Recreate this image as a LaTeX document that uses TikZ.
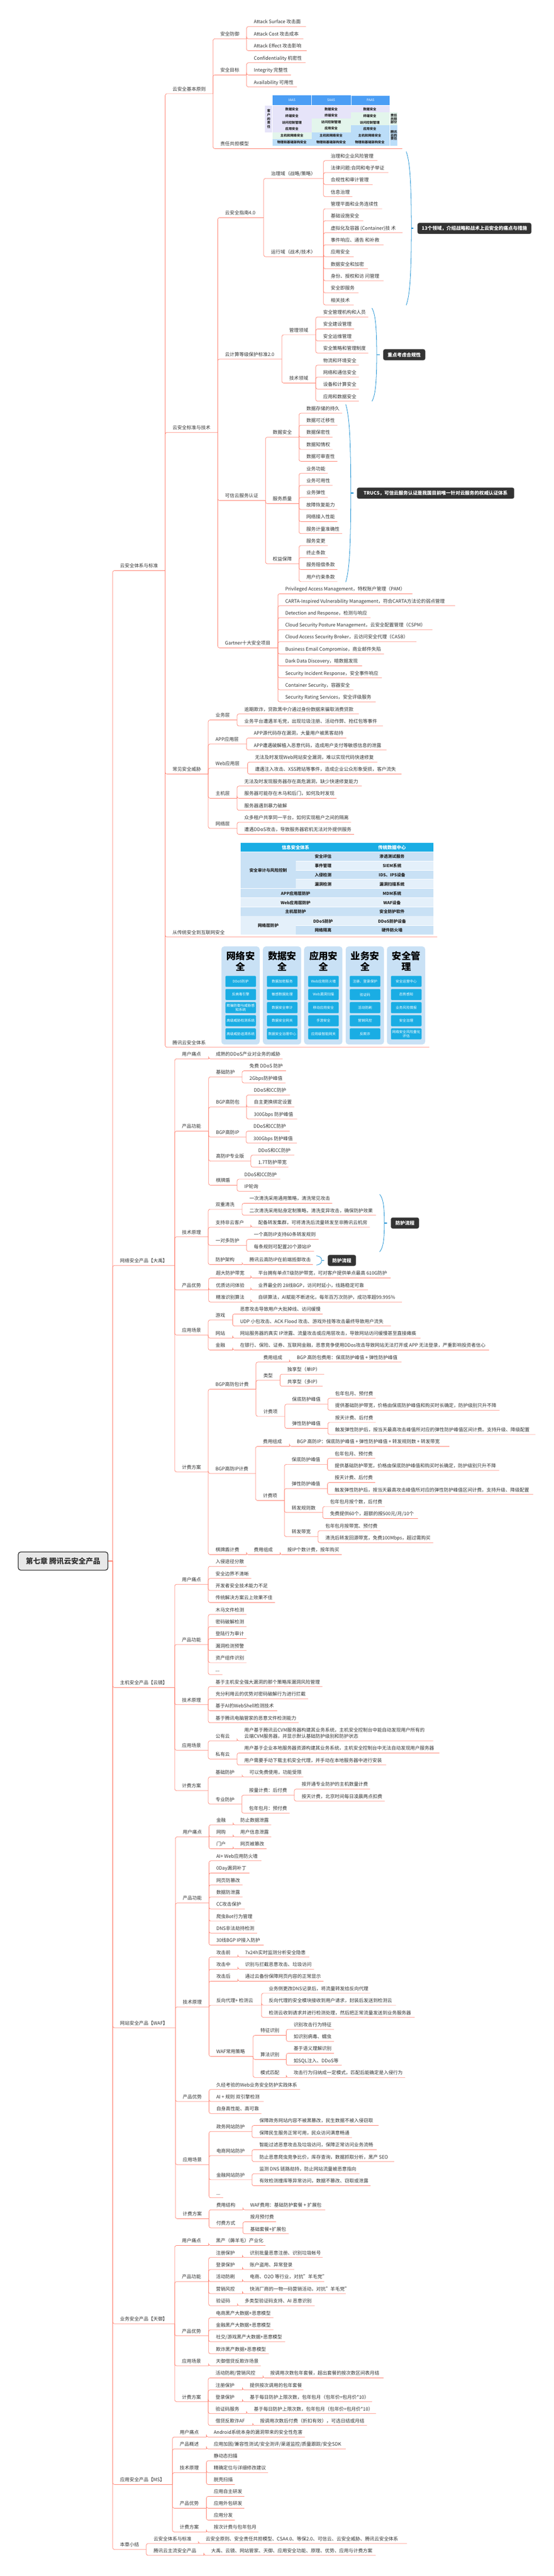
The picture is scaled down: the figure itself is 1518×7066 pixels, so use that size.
\documentclass[tikz,border=0pt]{standalone}
\usepackage{fontspec}
\setmainfont{Noto Sans CJK SC}
\definecolor{linec}{HTML}{FF7A68}
\definecolor{txtc}{HTML}{333333}
\definecolor{bluec}{HTML}{0A88D0}
\definecolor{darkc}{HTML}{333333}
\definecolor{lav}{HTML}{E6E4F9}
\definecolor{grn}{HTML}{E3F5EC}
\definecolor{sky}{HTML}{BBDDF8}
\definecolor{hdr}{HTML}{4B9EF5}
\definecolor{cy}{HTML}{1AADE4}
\definecolor{rowd}{HTML}{C9E1F5}
\definecolor{rowl}{HTML}{E4F0FA}
\tikzset{
  txt/.style={anchor=base west,inner sep=0pt,text=txtc,font=\fontsize{13}{17}\selectfont},
  conn/.style={draw=linec,line width=1pt,rounded corners=5pt},
  rootbox/.style={draw=darkc,line width=2pt,fill=black!9,rounded corners=7pt,minimum width=246pt,minimum height=50pt,inner sep=0pt,text=txtc,font=\fontsize{20}{24}\selectfont\bfseries},
  notebox/.style={fill=darkc,draw=black!55,line width=.5pt,rounded corners=5pt,minimum height=30pt,inner sep=0pt,text=white,font=\fontsize{13}{17}\selectfont\bfseries},
  brace/.style={draw=bluec,line width=1.1pt},
  stub/.style={draw=bluec,line width=2.4pt},
  tone/.style={inner sep=0pt,text=black!85,font=\fontsize{9}{11}\selectfont\bfseries,align=center},
  ttwo/.style={inner sep=0pt,text=black!85,font=\fontsize{11.4}{14}\selectfont\bfseries,align=center},
  thead/.style={inner sep=0pt,text=white,font=\fontsize{12.6}{15}\selectfont\bfseries},
  ttitle/.style={inner sep=0pt,text=black,font=\fontsize{26}{29.4}\selectfont\bfseries,align=center},
  tcell/.style={fill=cy,draw=cy!45,line width=.5pt,rounded corners=2pt},
  tcellt/.style={inner sep=0pt,text=white,font=\fontsize{9.6}{12.5}\selectfont,align=center},
}
% id, parent, y of the underline, x of its end, text
\newcommand\mm[5]{%
  \coordinate (#1-s) at (#2-e |- 0,#3);
  \coordinate (#1-e) at (#4,#3);
  \node[txt] (#1) at ([xshift=20pt,yshift=8pt]#1-s) {#5};
  \draw[conn] (#2-e) |- (#1-e);
}
\newcounter{cellno}
% x1,y1,x2,y2,fill
\newcommand\bx[5]{\fill[#5] (#1,#2) rectangle (#3,#4);}
% style, x, y, text
\newcommand\lb[4]{\stepcounter{cellno}\node[#1] (lb\thecellno) at (#2,#3) {#4};}
% x at both ends, text, y0, y1, apex x, stub end x, box left, box right
\newcommand\brk[8]{%
  \stepcounter{cellno}%
  \pgfmathsetmacro\mmYc{(#3+#4)/2}
  \pgfmathsetmacro\mmXm{#1+(#5-#1)*0.65}
  \pgfmathsetmacro\mmYa{#3+(\mmYc-#3)*0.12}
  \pgfmathsetmacro\mmYb{#3+(\mmYc-#3)*0.35}
  \pgfmathsetmacro\mmYd{#4-(#4-\mmYc)*0.35}
  \pgfmathsetmacro\mmYe{#4-(#4-\mmYc)*0.12}
  \pgfmathsetmacro\mmXw{(#7+#8)/2}
  \pgfmathsetmacro\mmWw{#8-#7}
  \coordinate (bt\thecellno) at (#1,#3);
  \coordinate (bb\thecellno) at (#1,#4);
  \coordinate (ba\thecellno) at (#5,\mmYc);
  \coordinate (bs\thecellno) at (#6,\mmYc);
  \draw[brace] (bt\thecellno) .. controls (\mmXm,\mmYa) and (#5,\mmYb) .. (ba\thecellno) .. controls (#5,\mmYd) and (\mmXm,\mmYe) .. (bb\thecellno);
  \draw[stub] (ba\thecellno) -- (bs\thecellno);
  \node[notebox,minimum width=\mmWw pt] (note\thecellno) at (\mmXw,\mmYc) {#2};
}
% table column: left x, title, 5 cells
\newcommand\tcol[7]{%
  \pgfmathsetmacro\mmCa{#1+11}\pgfmathsetmacro\mmCb{#1+95}\pgfmathsetmacro\mmCc{#1+53}\pgfmathsetmacro\mmCd{#1+105}
  \fill[rowd,rounded corners=8pt] (#1,2596) rectangle (\mmCd,2865);
  \lb{ttitle}{\mmCc}{2637}{#2}
  \draw[tcell] (\mmCa,2676.7) rectangle (\mmCb,2707.3); \lb{tcellt}{\mmCc}{2692}{#3}
  \draw[tcell] (\mmCa,2712.7) rectangle (\mmCb,2743.3); \lb{tcellt}{\mmCc}{2728}{#4}
  \draw[tcell] (\mmCa,2748.6) rectangle (\mmCb,2779.3); \lb{tcellt}{\mmCc}{2764}{#5}
  \draw[tcell] (\mmCa,2784.6) rectangle (\mmCb,2815.2); \lb{tcellt}{\mmCc}{2800}{#6}
  \draw[tcell] (\mmCa,2820.6) rectangle (\mmCb,2851.2); \lb{tcellt}{\mmCc}{2836}{#7}
}
\begin{document}
\begin{tikzpicture}[x=1pt,y=-1pt]
\useasboundingbox (0,0) rectangle (1518,7066);
\node[rootbox] (root) at (173,4282) {第七章 腾讯云安全产品};
\coordinate (root-e) at (309,4282);
\draw[linec,line width=2pt] (root.east) -- (root-e);

% ---- 云安全体系与标准
\mm{a}{root}{1565}{453}{云安全体系与标准}
\mm{a1}{a}{257}{584}{云安全基本原则}
\mm{a11}{a1}{106.4}{676}{安全防御}
\mm{a111}{a11}{73}{839}{Attack Surface 攻击面}
\mm{a112}{a11}{106.4}{832}{Attack Cost 攻击成本}
\mm{a113}{a11}{139.3}{841}{Attack Effect 攻击影响}
\mm{a12}{a1}{205.5}{676}{安全目标}
\mm{a121}{a12}{172.2}{838}{Confidentiality 机密性}
\mm{a122}{a12}{205.5}{798}{Integrity 完整性}
\mm{a123}{a12}{238.4}{814}{Availability 可用性}
\mm{a13}{a1}{407.6}{1103}{责任共担模型}
% table 1
\bx{748}{262}{853}{288}{hdr}\bx{855}{262}{962}{288}{hdr}\bx{964}{263}{1069}{288}{hdr}
\lb{thead,font=\fontsize{9}{11}\selectfont}{800.5}{275}{IAAS}
\lb{thead,font=\fontsize{9}{11}\selectfont}{908}{275}{SAAS}
\lb{thead,font=\fontsize{9}{11}\selectfont}{1016}{275}{PAAS}
\bx{727}{289.3}{746}{363}{lav}
\bx{748}{289.3}{855}{362.8}{lav}\bx{748}{362.8}{855}{381.2}{grn}\bx{748}{381.2}{855}{400}{sky}
\bx{855}{289.3}{963}{325}{lav}\bx{855}{325}{963}{362.8}{grn}\bx{855}{362.8}{963}{400}{sky}
\bx{963}{289.3}{1069}{308}{lav}\bx{963}{308}{1069}{343}{grn}\bx{963}{343}{1069}{400}{sky}
\bx{1070}{308}{1090}{343}{grn}\bx{1070}{343}{1090}{400}{sky}
\lb{tone}{737}{304}{客}\lb{tone}{737}{315}{户}\lb{tone}{737}{326}{的}\lb{tone}{737}{337}{责}\lb{tone}{737}{348}{任}
\lb{tone}{1080}{317}{责任}\lb{tone}{1080}{326}{共担}\lb{tone}{1080}{335}{部分}
\lb{tone}{1080}{362}{腾讯}\lb{tone}{1080}{372}{云的}\lb{tone}{1080}{381}{责任}
\lb{tone}{800.5}{299.3}{数据安全}\lb{tone}{800.5}{318.4}{终端安全}\lb{tone}{800.5}{336}{访问控制管理}\lb{tone}{800.5}{353.6}{应用安全}\lb{tone}{800.5}{372.4}{主机和网络安全}\lb{tone}{800.5}{390.7}{物理和基础架构安全}
\lb{tone}{908}{299.3}{数据安全}\lb{tone}{908}{316.5}{终端安全}\lb{tone}{908}{334.9}{访问控制管理}\lb{tone}{908}{352}{应用安全}\lb{tone}{908}{372.4}{主机和网络安全}\lb{tone}{908}{390.7}{物理和基础架构安全}
\lb{tone}{1014}{299.3}{数据安全}\lb{tone}{1014}{317.6}{终端安全}\lb{tone}{1014}{336}{访问控制管理}\lb{tone}{1014}{353.6}{应用安全}\lb{tone}{1014}{372.4}{主机和网络安全}\lb{tone}{1014}{390.7}{物理和基础架构安全}

\mm{a2}{a}{1186}{597}{云安全标准与技术}
\mm{a21}{a2}{597}{723}{云安全指南4.0}
\mm{a211}{a21}{489.5}{887}{治理域（战略/策略）}
\mm{a2111}{a211}{440.5}{1035}{治理和企业风险管理}
\mm{a2112}{a211}{473.4}{1065}{法律问题:合同和电子举证}
\mm{a2113}{a211}{506.3}{1022}{合规性和审计管理}
\mm{a2114}{a211}{539.6}{966}{信息治理}
\mm{a212}{a21}{704}{887}{运行域（战术/技术）}
\mm{a2121}{a212}{572.5}{1048}{管理平面和业务连续性}
\mm{a2122}{a212}{605.4}{996}{基础设施安全}
\mm{a2123}{a212}{638.3}{1104}{虚拟化及容器 (Container)技 术}
\mm{a2124}{a212}{671.6}{1052}{事件响应、通告 和补救}
\mm{a2125}{a212}{704}{970}{应用安全}
\mm{a2126}{a212}{737.4}{1009}{数据安全和加密}
\mm{a2127}{a212}{770.3}{1052}{身份、授权和访 问管理}
\mm{a2128}{a212}{803.6}{983}{安全即服务}
\mm{a2129}{a212}{836.5}{970}{相关技术}
\brk{1114}{13个领域，介绍战略和战术上云安全的痛点与措施}{416}{837}{1128}{1134}{1145}{1457}
\mm{a22}{a2}{985}{773}{云计算等级保护标准2.0}
\mm{a221}{a22}{918.4}{866}{管理领域}
\mm{a2211}{a221}{869.4}{1010}{安全管理机构和人员}
\mm{a2212}{a221}{902.3}{971}{安全建设管理}
\mm{a2213}{a221}{935.2}{971}{安全运维管理}
\mm{a2214}{a221}{968.5}{1010}{安全策略和管理制度}
\mm{a222}{a22}{1050.8}{866}{技术领域}
\mm{a2221}{a222}{1001.5}{984}{物流和环境安全}
\mm{a2222}{a222}{1034.4}{984}{网络和通信安全}
\mm{a2223}{a222}{1067.3}{984}{设备和计算安全}
\mm{a2224}{a222}{1100.6}{984}{应用和数据安全}
\brk{1020}{重点考虑合规性}{845}{1101}{1033}{1041}{1051}{1166}
\mm{a23}{a2}{1373}{728}{可信云服务认证}
\mm{a231}{a23}{1199.3}{820}{数据安全}
\mm{a2311}{a231}{1133.5}{938}{数据存储的持久}
\mm{a2312}{a231}{1166.4}{925}{数据可迁移性}
\mm{a2313}{a231}{1199.3}{912}{数据保密性}
\mm{a2314}{a231}{1232.5}{912}{数据知情权}
\mm{a2315}{a231}{1265.4}{925}{数据可审查性}
\mm{a232}{a23}{1381.4}{820}{服务质量}
\mm{a2321}{a232}{1298.4}{899}{业务功能}
\mm{a2322}{a232}{1331.3}{912}{业务可用性}
\mm{a2323}{a232}{1364.6}{899}{业务弹性}
\mm{a2324}{a232}{1397.5}{925}{故障恢复能力}
\mm{a2325}{a232}{1430.8}{925}{网络接入性能}
\mm{a2326}{a232}{1463.7}{938}{服务计量准确性}
\mm{a233}{a23}{1546.3}{820}{权益保障}
\mm{a2331}{a233}{1496.6}{899}{服务变更}
\mm{a2332}{a233}{1529.5}{899}{终止条款}
\mm{a2333}{a233}{1562.4}{925}{服务赔偿条款}
\mm{a2334}{a233}{1595.3}{925}{用户约束条款}
\brk{948}{TRUCS，可信云服务认证是我国目前唯一针对云服务的权威认证体系}{1109}{1596.5}{962}{969}{979}{1410}
\mm{a24}{a2}{1777}{762}{Gartner十大安全项目}
\mm{a241}{a24}{1628.6}{1131}{Privileged Access Management，特权账户管理（PAM）}
\mm{a242}{a24}{1661.5}{1248}{CARTA-Inspired Vulnerability Management，符合CARTA方法论的弱点管理}
\mm{a243}{a24}{1694.4}{1016}{Detection and Response，检测与响应}
\mm{a244}{a24}{1727.3}{1186}{Cloud Security Posture Management，云安全配置管理（CSPM）}
\mm{a245}{a24}{1760.3}{1142}{Cloud Access Security Broker，云访问安全代理（CASB）}
\mm{a246}{a24}{1793.6}{1053}{Business Email Compromise，商业邮件失陷}
\mm{a247}{a24}{1826.4}{993}{Dark Data Discovery，暗数据发现}
\mm{a248}{a24}{1859.3}{1047}{Security Incident Response，安全事件响应}
\mm{a249}{a24}{1892.2}{969}{Container Security，容器安全}
\mm{a240}{a24}{1925.1}{1030}{Security Rating Services，安全评级服务}
\mm{a3}{a}{2123.4}{571}{常见安全威胁}
\mm{a31}{a3}{1974.9}{650}{业务层}
\mm{a311}{a31}{1958.4}{984}{逾期欺诈，贷款黑中介通过身份数据来骗取消费贷款}
\mm{a312}{a31}{1991.3}{1050}{业务平台遭遇羊毛党，出现垃圾注册、活动作弊、抢红包等事件}
\mm{a32}{a3}{2040.7}{676}{APP应用层}
\mm{a321}{a32}{2024.3}{950}{APP源代码存在漏洞，大量用户被黑客劫持}
\mm{a322}{a32}{2057.2}{1060}{APP遭遇破解植入恶意代码，造成用户支付等敏感信息的泄露}
\mm{a33}{a3}{2106.9}{679}{Web应用层}
\mm{a331}{a33}{2090.5}{1035}{无法及时发现Web网站安全漏洞，难以实现代码快速修复}
\mm{a332}{a33}{2123.4}{1101}{遭遇注入攻击、XSS跨站等事件，造成企业公众形象受损，客户流失}
\mm{a34}{a3}{2189.6}{650}{主机层}
\mm{a341}{a34}{2156.3}{992}{无法及时发现服务器存在高危漏洞，缺少快速修复能力}
\mm{a342}{a34}{2189.6}{923}{服务器可能存在木马和后门，如何及时发现}
\mm{a343}{a34}{2222.5}{794}{服务器遇到暴力破解}
\mm{a35}{a3}{2272.3}{650}{网络层}
\mm{a351}{a35}{2255.4}{963}{众多租户共享同一平台，如何实现租户之间的隔离}
\mm{a352}{a35}{2288.7}{971}{遭遇DDoS攻击，导致服务器宕机无法对外提供服务}
\mm{a4}{a}{2570.3}{1199}{从传统安全到互联网安全}
% table 2
\bx{660}{2312.4}{961}{2335.8}{cy}\bx{961.6}{2312.4}{1189}{2335.8}{cy}
\lb{thead}{810.5}{2325}{信息安全体系}\lb{thead}{1075}{2325}{传统数据中心}
\bx{660}{2337}{811}{2437}{rowd}
\lb{ttwo}{735.5}{2388}{安全审计与风险控制}
\bx{811.6}{2337}{1189}{2361.4}{rowd}\lb{ttwo}{886}{2350}{安全评估}\lb{ttwo}{1075}{2350}{渗透测试服务}
\bx{811.6}{2362.5}{1189}{2386.7}{rowl}\lb{ttwo}{886}{2375}{事件管理}\lb{ttwo}{1075}{2375}{SIEM系统}
\bx{811.6}{2387.8}{1189}{2411}{rowd}\lb{ttwo}{886}{2400}{入侵检测}\lb{ttwo}{1075}{2400}{IDS、IPS设备}
\bx{811.6}{2412}{1189}{2437}{rowl}\lb{ttwo}{886}{2425}{漏洞检测}\lb{ttwo}{1075}{2425}{漏洞扫描系统}
\bx{660}{2438}{1189}{2462}{rowd}\lb{ttwo}{810.5}{2451}{APP应用层防护}\lb{ttwo}{1075}{2451}{MDM系统}
\bx{660}{2463}{1189}{2487}{rowl}\lb{ttwo}{810.5}{2476}{Web应用层防护}\lb{ttwo}{1075}{2476}{WAF设备}
\bx{660}{2488}{1189}{2512}{rowd}\lb{ttwo}{810.5}{2501}{主机层防护}\lb{ttwo}{1075}{2501}{安全防护软件}
\bx{660}{2513}{811}{2563}{rowl}\lb{ttwo}{735.5}{2539}{网络层防护}
\bx{811.6}{2513}{1189}{2538}{rowl}\lb{ttwo}{886}{2527}{DDoS防护}\lb{ttwo}{1075}{2527}{DDoS防护设备}
\bx{811.6}{2539}{1189}{2563}{rowd}\lb{ttwo}{886}{2552}{网络隔离}\lb{ttwo}{1075}{2552}{硬件防火墙}
\mm{a5}{a}{2872.6}{1177}{腾讯云安全体系}
% table 3
\tcol{607}{网络安\\全}{DDoS防护}{反病毒引擎}{欺骗防御与威胁感\\知系统}{高级威胁检测系统}{高级威胁追溯系统}
\tcol{721}{数据安\\全}{数据加密服务}{敏感数据处理}{数据安全审计}{数据安全网关}{数据安全治理中心}
\tcol{834}{应用安\\全}{Web应用防火墙}{Web漏洞扫描}{移动应用安全}{手游安全}{应用级智能网关}
\tcol{948}{业务安\\全}{注册、登录保护}{验证码}{活动防刷}{营销风控}{反欺诈}
\tcol{1061}{安全管\\理}{安全运营中心}{态势感知}{业务风险情报}{安全治理}{网络安全风险量化\\评估}

% ---- 网络安全产品【大禹】
\mm{b}{root}{3471}{479}{网络安全产品【大禹】}
\mm{b1}{b}{2904.4}{572}{用户痛点}
\mm{b11}{b1}{2904.4}{775}{成熟的DDoS产业对业务的威胁}
\mm{b2}{b}{3102.6}{572}{产品功能}
\mm{b21}{b2}{2953.8}{664}{基础防护}
\mm{b211}{b21}{2937.3}{784}{免费 DDoS 防护}
\mm{b212}{b21}{2970.6}{783}{2Gbps防护峰值}
\mm{b22}{b2}{3036.4}{676}{BGP高防包}
\mm{b221}{b22}{3003.4}{795}{DDoS和CC防护}
\mm{b222}{b22}{3036.4}{807}{自主更换绑定设置}
\mm{b223}{b22}{3069.3}{815}{300Gbps 防护峰值}
\mm{b23}{b2}{3119}{675}{BGP高防IP}
\mm{b231}{b23}{3102.6}{794}{DDoS和CC防护}
\mm{b232}{b23}{3135.5}{814}{300Gbps 防护峰值}
\mm{b24}{b2}{3184.8}{688}{高防IP专业版}
\mm{b241}{b24}{3168.4}{807}{DDoS和CC防护}
\mm{b242}{b24}{3201.3}{791}{1.7T防护带宽}
\mm{b25}{b2}{3251}{650}{棋牌盾}
\mm{b251}{b25}{3234.6}{769}{DDoS和CC防护}
\mm{b252}{b25}{3267.5}{715}{IP轮询}
\mm{b3}{b}{3392.6}{571}{技术原理}
\mm{b31}{b3}{3316.9}{664}{双重清洗}
\mm{b311}{b31}{3300.4}{911}{一次清洗采用通用策略，清洗常见攻击}
\mm{b312}{b31}{3333.3}{1031}{二次清洗采用贴身定制策略，清洗变异攻击，确保防护效果}
\mm{b32}{b3}{3366.2}{688}{支持非云客户}
\mm{b321}{b32}{3366.2}{1014}{配备转发集群，可将清洗后流量转发至非腾讯云机房}
\mm{b33}{b3}{3416}{676}{一对多防护}
\mm{b331}{b33}{3399.5}{874}{一个高防IP支持60条转发规则}
\mm{b332}{b33}{3432.4}{861}{每条规则可配置20个源站IP}
\mm{b34}{b3}{3468.8}{664}{防护架构}
\mm{b341}{b34}{3468.8}{858}{腾讯云高防IP在前端抵御攻击}
\brk{1041}{防护流程}{3276}{3433.6}{1054}{1062}{1072}{1149}
\brk{868}{防护流程}{3444.7}{3470}{882}{889}{899}{976}
\mm{b4}{b}{3538.4}{572}{产品优势}
\mm{b41}{b4}{3505.5}{688}{超大防护带宽}
\mm{b411}{b41}{3505.5}{1071}{平台拥有单点T级防护带宽，可对客户提供单点最高 610G防护}
\mm{b42}{b4}{3538.4}{688}{优质访问体验}
\mm{b421}{b42}{3538.4}{1009}{业界最全的 28线BGP，访问时延小，线路稳定可靠}
\mm{b43}{b4}{3571.4}{688}{精准识别算法}
\mm{b431}{b43}{3571.4}{1102}{自研算法，AI赋能不断进化，每年百万次防护，成功率超99.995\%}
\mm{b5}{b}{3662}{571}{应用场景}
\mm{b51}{b5}{3620.7}{638}{游戏}
\mm{b511}{b51}{3604.2}{885}{恶意攻击导致用户大批掉线、访问缓慢}
\mm{b512}{b51}{3637.1}{1072}{UDP 小包攻击、ACK Flood 攻击、游戏外挂等攻击最终导致用户流失}
\mm{b52}{b5}{3670.4}{638}{网站}
\mm{b521}{b52}{3670.4}{1153}{网站服务器的真实 IP泄露、流量攻击或应用层攻击，导致网站访问缓慢甚至直接瘫痪}
\mm{b53}{b5}{3703.3}{638}{金融}
\mm{b531}{b53}{3703.3}{1341}{在银行、保险、证券、互联网金融，恶意竞争使用DDos攻击导致网站无法打开或 APP 无法登录，严重影响投资者信心}
\mm{b6}{b}{4037.4}{571}{计费方案}
\mm{b61}{b6}{3810.5}{702}{BGP高防包计费}
\mm{b611}{b61}{3736.2}{794}{费用组成}
\mm{b6111}{b611}{3736.2}{1101}{BGP 高防包费用：保底防护峰值 + 弹性防护峰值}
\mm{b612}{b61}{3786}{768}{类型}
\mm{b6121}{b612}{3769.5}{889}{独享型（单IP）}
\mm{b6122}{b612}{3802.4}{885}{共享型（多IP）}
\mm{b613}{b61}{3885}{781}{计费项}
\mm{b6131}{b613}{3851.8}{899}{保底防护峰值}
\mm{b61311}{b6131}{3835.4}{1030}{包年包月、预付费}
\mm{b61312}{b6131}{3868.3}{1370}{提供基础防护带宽，价格由保底防护峰值和购买时长确定，防护级别只升不降}
\mm{b6132}{b613}{3918}{899}{弹性防护峰值}
\mm{b61321}{b6132}{3901.6}{1030}{按天计费、后付费}
\mm{b61322}{b6132}{3934.5}{1468}{触发弹性防护后，按当天最高攻击峰值所对应的弹性防护峰值区间计费。支持升级、降级配置}
\mm{b62}{b6}{4041.6}{701}{BGP高防IP计费}
\mm{b621}{b62}{3967.4}{794}{费用组成}
\mm{b6211}{b621}{3967.4}{1232}{BGP 高防IP：保底防护峰值 + 弹性防护峰值 + 转发规则数 + 转发带宽}
\mm{b622}{b62}{4115.9}{780}{计费项}
\mm{b6221}{b622}{4016.8}{898}{保底防护峰值}
\mm{b62211}{b6221}{4000.3}{1029}{包年包月、预付费}
\mm{b62212}{b6221}{4033.2}{1369}{提供基础防护带宽，价格由保底防护峰值和购买时长确定，防护级别只升不降}
\mm{b6222}{b622}{4083}{898}{弹性防护峰值}
\mm{b62221}{b6222}{4066.5}{1029}{按天计费、后付费}
\mm{b62222}{b6222}{4099.4}{1462}{触发弹性防护后，按当天最高攻击峰值所对应的弹性防护峰值区间计费。支持升级、降级配置}
\mm{b6223}{b622}{4148.8}{885}{转发规则数}
\mm{b62231}{b6223}{4132.3}{1055}{包年包月按个数，后付费}
\mm{b62232}{b6223}{4165.3}{1146}{免费提供60个，超额的按500元/月/10个}
\mm{b6224}{b622}{4215}{872}{转发带宽}
\mm{b62241}{b6224}{4198.5}{1043}{包年包月按带宽、预付费}
\mm{b62242}{b6224}{4231.4}{1188}{清洗后转发回源带宽，免费100Mbps，超过需购买}
\mm{b63}{b6}{4264.3}{676}{棋牌盾计费}
\mm{b631}{b63}{4264.3}{768}{费用组成}
\mm{b6311}{b631}{4264.3}{937}{按IP个数计费，按年购买}

% ---- 主机安全产品【云镜】
\mm{c}{root}{4629}{479}{主机安全产品【云镜】}
\mm{c1}{c}{4345.8}{571}{用户痛点}
\mm{c11}{c1}{4296.4}{676}{入侵途径分散}
\mm{c12}{c1}{4329.7}{689}{安全边界不清晰}
\mm{c13}{c1}{4362.6}{741}{开发者安全技术能力不足}
\mm{c14}{c1}{4395.6}{754}{传统解决方案云上效果不佳}
\mm{c2}{c}{4510.8}{571}{产品功能}
\mm{c21}{c2}{4428.5}{676}{木马文件检测}
\mm{c22}{c2}{4461.8}{676}{密码破解检测}
\mm{c23}{c2}{4494.7}{676}{登陆行为审计}
\mm{c24}{c2}{4527.6}{676}{漏洞检测预警}
\mm{c25}{c2}{4560.5}{676}{资产组件识别}
\mm{c26}{c2}{4593.4}{610}{...}
\mm{c3}{c}{4676}{571}{技术原理}
\mm{c31}{c3}{4626.3}{884}{基于主机安全强大漏洞的那个策略库漏洞风险管理}
\mm{c32}{c3}{4659.6}{845}{充分利用云的优势对密码破解行为进行拦截}
\mm{c33}{c3}{4692.5}{760}{基于AI的WebShell检测技术}
\mm{c34}{c3}{4725.4}{819}{基于腾讯电脑管家的恶意文件检测能力}
\mm{c4}{c}{4800.8}{571}{应用场景}
\mm{c41}{c4}{4775}{650}{公有云}
\mm{c411}{c41}{4775}{1188}{\begin{tabular}[b]{@{}l@{}}用户基于腾讯云CVM服务器构建其业务系统，主机安全控制台中能自动发现用户所有的\\云端CVM服务器，并显示默认基础防护级别和防护状态\end{tabular}}
\mm{c42}{c4}{4825}{650}{私有云}
\mm{c421}{c42}{4808.4}{1205}{用户基于企业本地服务器资源构建其业务系统，主机安全控制台中无法自动发现用户服务器}
\mm{c422}{c42}{4841.3}{1059}{用户需要手动下载主机安全代理，并手动在本地服务器中进行安装}
\mm{c5}{c}{4911.7}{571}{计费方案}
\mm{c51}{c5}{4874.2}{664}{基础防护}
\mm{c511}{c51}{4874.2}{832}{可以免费使用，功能受限}
\mm{c52}{c5}{4948.5}{663}{专业防护}
\mm{c521}{c52}{4924}{807}{按量计费：后付费}
\mm{c5211}{c521}{4907.5}{1015}{按开通专业防护的主机数量计费}
\mm{c5212}{c521}{4940.4}{1055}{按天计费，北京时间每日凌晨两点扣费}
\mm{c522}{c52}{4973.4}{794}{包年包月：预付费}

% ---- 网站安全产品【WAF】
\mm{d}{root}{5562.3}{481}{网站安全产品【WAF】}
\mm{d1}{d}{5038.4}{573}{用户痛点}
\mm{d11}{d1}{5005.5}{639}{金融}
\mm{d111}{d11}{5005.5}{744}{防止数据泄露}
\mm{d12}{d1}{5038.4}{639}{网购}
\mm{d121}{d12}{5038.4}{744}{用户信息泄露}
\mm{d13}{d1}{5071.3}{639}{门户}
\mm{d131}{d13}{5071.3}{731}{网页被篡改}
\mm{d2}{d}{5219.8}{573}{产品功能}
\mm{d21}{d2}{5104.2}{717}{AI+ Web应用防火墙}
\mm{d22}{d2}{5137.5}{684}{0Day漏洞补丁}
\mm{d23}{d2}{5170.4}{665}{网页防篡改}
\mm{d24}{d2}{5203.3}{665}{数据防泄露}
\mm{d25}{d2}{5236.3}{671}{CC攻击保护}
\mm{d26}{d2}{5269.6}{699}{爬虫Bot行为管理}
\mm{d27}{d2}{5302.5}{705}{DNS非法劫持检测}
\mm{d28}{d2}{5335.4}{723}{30线BGP IP接入防护}
\mm{d3}{d}{5504.9}{573}{技术原理}
\mm{d31}{d3}{5368.3}{652}{攻击前}
\mm{d311}{d31}{5368.3}{848}{7x24h实时监测分析安全隐患}
\mm{d32}{d3}{5401.5}{652}{攻击中}
\mm{d321}{d32}{5401.5}{861}{识别与拦截恶意攻击、垃圾访问}
\mm{d33}{d3}{5434.4}{652}{攻击后}
\mm{d331}{d33}{5434.4}{887}{通过云备份保障网页内容的正常显示}
\mm{d34}{d3}{5500.3}{717}{反向代理+ 检测云}
\mm{d341}{d34}{5467.4}{1016}{业务侧更改DNS记录后，将流量转发给反向代理}
\mm{d342}{d34}{5500.3}{1086}{反向代理的安全模块接收到用户请求，封装后发送到检测云}
\mm{d343}{d34}{5533.6}{1137}{检测云收到请求并进行检测处理，然后把正常流量发送到业务服务器}
\mm{d35}{d3}{5640.7}{694}{WAF常用策略}
\mm{d351}{d35}{5582.9}{785}{特征识别}
\mm{d3511}{d351}{5566.5}{916}{识别攻击行为特征}
\mm{d3512}{d351}{5599.4}{916}{如识别病毒、蠕虫}
\mm{d352}{d35}{5649.1}{785}{算法识别}
\mm{d3521}{d352}{5632.3}{916}{基于语义理解识别}
\mm{d3522}{d352}{5665.2}{937}{如SQL注入、DDoS等}
\mm{d353}{d35}{5698.5}{785}{模式匹配}
\mm{d3531}{d353}{5698.5}{1111}{攻击行为归纳成一定模式，匹配后能确定是入侵行为}
\mm{d4}{d}{5764.3}{573}{产品优势}
\mm{d41}{d4}{5731.4}{823}{久经考验的Web业务安全防护实践体系}
\mm{d42}{d4}{5764.3}{723}{AI + 规则 双引擎检测}
\mm{d43}{d4}{5797.2}{717}{自身高性能、高可靠}
\mm{d5}{d}{5937.7}{573}{应用场景}
\mm{d51}{d5}{5846.6}{691}{政务网站防护}
\mm{d511}{d51}{5830.2}{1038}{保障政务网站内容不被黑篡改，民生数据不被入侵窃取}
\mm{d512}{d51}{5863.4}{965}{保障民生服务正常可用，民众访问满意畅通}
\mm{d52}{d5}{5912.8}{691}{电商网站防护}
\mm{d521}{d52}{5896.4}{1033}{智能过滤恶意攻击及垃圾访问，保障正常访问业务流畅}
\mm{d522}{d52}{5929.3}{1081}{防止恶意爬虫竞争比价，库存查询，数据抓取分析，黑产 SEO}
\mm{d53}{d5}{5979}{691}{金融网站防护}
\mm{d531}{d53}{5962.6}{986}{监测 DNS 链路劫持，防止网站流量被恶意指向}
\mm{d532}{d53}{5995.5}{1016}{有效检测撞库等异常访问，数据不篡改、窃取或泄露}
\mm{d54}{d5}{6028.4}{612}{...}
\mm{d6}{d}{6086}{573}{计费方案}
\mm{d61}{d6}{6061.4}{666}{费用结构}
\mm{d611}{d61}{6061.4}{892}{WAF费用：基础防护套餐 + 扩展包}
\mm{d62}{d6}{6110.9}{666}{付费方式}
\mm{d621}{d62}{6094.4}{757}{按月预付费}
\mm{d622}{d62}{6127.3}{792}{基础套餐+扩展包}

% ---- 业务安全产品【天御】
\mm{e}{root}{6374}{479}{业务安全产品【天御】}
\mm{e1}{e}{6159.3}{572}{用户痛点}
\mm{e11}{e1}{6159.3}{728}{黑产（薅羊毛）产业化}
\mm{e2}{e}{6258.5}{572}{产品功能}
\mm{e21}{e2}{6192.2}{665}{注册保护}
\mm{e211}{e21}{6192.2}{885}{识别批量恶意注册、识别垃圾帐号}
\mm{e22}{e2}{6225.2}{665}{登录保护}
\mm{e221}{e22}{6225.2}{807}{账户盗用、异常登录}
\mm{e23}{e2}{6258.5}{665}{活动防刷}
\mm{e231}{e23}{6258.5}{889}{电商、O2O 等行业，对抗"羊毛党"}
\mm{e24}{e2}{6291.5}{665}{营销风控}
\mm{e241}{e24}{6291.5}{948}{快消厂商的一物一码营销活动，对抗"羊毛党"}
\mm{e25}{e2}{6324.5}{651}{验证码}
\mm{e251}{e25}{6324.5}{863}{多类型验证码支持、AI 恶意识别}
\mm{e3}{e}{6407}{572}{产品优势}
\mm{e31}{e3}{6357.5}{750}{电商黑产大数据+恶意模型}
\mm{e32}{e3}{6390.5}{750}{金融黑产大数据+恶意模型}
\mm{e33}{e3}{6423.4}{782}{社交/游戏黑产大数据+恶意模型}
\mm{e34}{e3}{6456.4}{737}{欺诈黑产数据+恶意模型}
\mm{e4}{e}{6489.4}{572}{应用场景}
\mm{e41}{e4}{6489.4}{715}{天御借贷反欺诈场景}
\mm{e5}{e}{6587.8}{571}{计费方案}
\mm{e51}{e5}{6522.4}{721}{活动防刷/营销风控}
\mm{e511}{e51}{6522.4}{1052}{按调用次数包年套餐，超出套餐的按次数区间表月结}
\mm{e52}{e5}{6555.3}{665}{注册保护}
\mm{e521}{e52}{6555.3}{832}{提供按次调用的包年套餐}
\mm{e53}{e5}{6587.8}{665}{登录保护}
\mm{e531}{e53}{6587.8}{1020}{基于每日防护上限次数，包年包月（包年价=包月价*10）}
\mm{e54}{e5}{6620.4}{676}{验证码服务}
\mm{e541}{e54}{6620.4}{1031}{基于每日防护上限次数，包年包月（包年价=包月价*10）}
\mm{e55}{e5}{6653}{693}{借贷反欺诈AF}
\mm{e551}{e55}{6653}{1006}{按调用次数后付费（折扣有效），可选日结或月结}

% ---- 应用安全产品【MS】
\mm{f}{root}{6815}{473}{应用安全产品【MS】}
\mm{f1}{f}{6684.6}{566}{用户痛点}
\mm{f11}{f1}{6684.6}{836}{Android系统本身的漏洞带来的安全性危害}
\mm{f2}{f}{6717.2}{566}{产品概述}
\mm{f21}{f2}{6717.2}{948}{应用加固/兼容性测试/安全测评/渠道监控/质量跟踪/安全SDK}
\mm{f3}{f}{6782.3}{566}{技术原理}
\mm{f31}{f3}{6749.8}{657}{静动态扫描}
\mm{f32}{f3}{6782.3}{735}{精确定位与详细修改建议}
\mm{f33}{f3}{6815}{644}{脱壳扫描}
\mm{f4}{f}{6880}{566}{产品优势}
\mm{f41}{f4}{6847.5}{670}{应用自主研发}
\mm{f42}{f4}{6880}{670}{应用外包研发}
\mm{f43}{f4}{6912.7}{644}{应用分发}
\mm{f5}{f}{6945.3}{566}{计费方案}
\mm{f51}{f5}{6945.3}{709}{按次计费与包年包月}

% ---- 本章小结
\mm{g}{root}{6993.3}{401}{本章小结}
\mm{g1}{g}{6976.9}{544}{云安全体系与标准}
\mm{g11}{g1}{6976.9}{1116}{云安全原则、安全责任共担模型、CSA4.0、等保2.0、可信云、云安全威胁、腾讯云安全体系}
\mm{g2}{g}{7009.4}{559}{腾讯云主流安全产品}
\mm{g21}{g2}{7009.4}{1030}{大禹、云镜、网站管家、天御、应用安全功能、原理、优势、应用与计费方案}
\end{tikzpicture}
\end{document}
